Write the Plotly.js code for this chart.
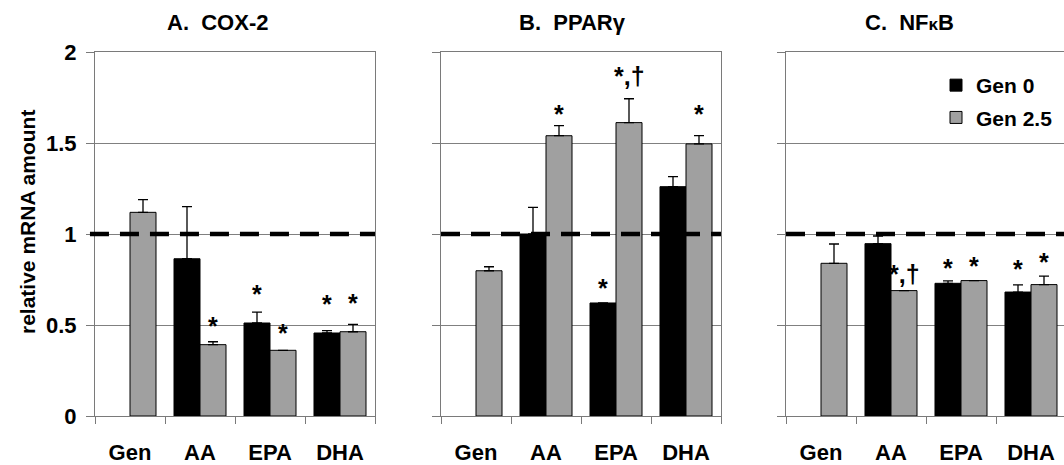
<!DOCTYPE html>
<html>
<head>
<meta charset="utf-8">
<script src="https://cdn.plot.ly/plotly-3.0.1.min.js"></script>
<style>
html,body{margin:0;padding:0;overflow:hidden;background:#fff;}
#chart{width:1070px;height:465px;}
</style>
</head>
<body>
<div id="chart"></div>
<script>
// ---------------- data ----------------
const categories = ['Gen', 'AA', 'EPA', 'DHA'];
const seriesNames = ['Gen 0', 'Gen 2.5'];
const panelTitles = ['A.  COX-2', 'B.  PPARγ', 'C.  NF<span style="font-size:17px">κ</span>B'];
const yTickVals = [0, 0.5, 1, 1.5, 2];
const yTickText = ['0', '0.5', '1', '1.5', '2'];
const yTitle = 'relative mRNA amount';
const referenceLevel = 1;

// COX-2
const coxGen0 = [null, 0.864, 0.511, 0.456];
const coxGen0Err = [0, 0.286, 0.060, 0.013];
const coxGen25 = [1.119, 0.392, 0.361, 0.463];
const coxGen25Err = [0.070, 0.016, 0, 0.040];
const coxSig0 = ['', '', '*', '*'];
const coxSig0Y = [null, null, 0.676, 0.620];
const coxSig25 = ['', '*', '*', '*'];
const coxSig25Y = [null, 0.500, 0.460, 0.626];

// PPARgamma
const pparGen0 = [null, 1.000, 0.621, 1.260];
const pparGen0Err = [0, 0.146, 0, 0.055];
const pparGen25 = [0.798, 1.540, 1.612, 1.495];
const pparGen25Err = [0.022, 0.055, 0.131, 0.045];
const pparSig0 = ['', '', '*', ''];
const pparSig0Y = [null, null, 0.709, null];
const pparSig25 = ['', '*', '*,†', '*'];
const pparSig25Y = [null, 1.665, 1.874, 1.665];

// NFkB
const nfkbGen0 = [null, 0.947, 0.729, 0.681];
const nfkbGen0Err = [0, 0.042, 0.013, 0.040];
const nfkbGen25 = [0.839, 0.689, 0.744, 0.722];
const nfkbGen25Err = [0.106, 0, 0, 0.046];
const nfkbSig0 = ['', '', '*', '*'];
const nfkbSig0Y = [null, null, 0.819, 0.813];
const nfkbSig25 = ['', '*,†', '*', '*'];
const nfkbSig25Y = [null, 0.786, 0.830, 0.852];

// ---------------- layout constants ----------------
const W = 1070, H = 465;
const FONT = 'Liberation Sans, Arial, Helvetica, sans-serif';
const panelPx = [[95, 375], [441, 721], [786, 1066]];
const plotTop = 52, plotBottom = 416;
const black = '#000000';
const gray = '#a0a0a0';
const axisGray = '#7a7a7a';
const barShift = 13;

const panels = [
  {g0: coxGen0, e0: coxGen0Err, g25: coxGen25, e25: coxGen25Err, s0: coxSig0, s0y: coxSig0Y, s25: coxSig25, s25y: coxSig25Y},
  {g0: pparGen0, e0: pparGen0Err, g25: pparGen25, e25: pparGen25Err, s0: pparSig0, s0y: pparSig0Y, s25: pparSig25, s25y: pparSig25Y},
  {g0: nfkbGen0, e0: nfkbGen0Err, g25: nfkbGen25, e25: nfkbGen25Err, s0: nfkbSig0, s0y: nfkbSig0Y, s25: nfkbSig25, s25y: nfkbSig25Y}
];

const traces = [];
const annotations = [];
const shapes = [];
const layout = {
  width: W, height: H,
  margin: {l: 0, r: 0, t: 0, b: 0},
  paper_bgcolor: '#fff', plot_bgcolor: '#fff',
  font: {family: FONT, size: 21, color: '#000', weight: 'bold'},
  barmode: 'group', bargap: 0.257, bargroupgap: 0,
  showlegend: true,
  legend: {
    x: 936 / W, y: 1 - 65 / H, xanchor: 'left', yanchor: 'top',
    bgcolor: 'rgba(0,0,0,0)', borderwidth: 0,
    font: {family: FONT, size: 21, color: '#000', weight: 'bold'},
    itemwidth: 30, tracegroupgap: 2, traceorder: 'grouped'
  }
};

panels.forEach((p, i) => {
  const xa = i === 0 ? 'x' : 'x' + (i + 1);
  const ya = i === 0 ? 'y' : 'y' + (i + 1);
  const xKey = i === 0 ? 'xaxis' : 'xaxis' + (i + 1);
  const yKey = i === 0 ? 'yaxis' : 'yaxis' + (i + 1);
  const last = i === panels.length - 1;
  traces.push({
    type: 'bar', x: categories, y: p.g0, name: seriesNames[0], xaxis: xa, yaxis: ya,
    marker: {color: black, line: {color: black, width: 1}},
    error_y: {type: 'data', symmetric: false, array: p.e0, arrayminus: p.e0.map(() => 0), color: black, thickness: 1.3, width: 5},
    showlegend: last, legendgroup: 'g0', hoverinfo: 'skip'
  });
  traces.push({
    type: 'bar', x: categories, y: p.g25, name: seriesNames[1], xaxis: xa, yaxis: ya,
    marker: {color: gray, line: {color: black, width: 1}},
    error_y: {type: 'data', symmetric: false, array: p.e25, arrayminus: p.e25.map(() => 0), color: black, thickness: 1.3, width: 5},
    showlegend: last, legendgroup: 'g25', hoverinfo: 'skip'
  });
  layout[xKey] = {
    domain: [panelPx[i][0] / W, panelPx[i][1] / W],
    anchor: ya, type: 'category', range: [-0.5, categories.length - 0.5],
    showline: true, linecolor: axisGray, linewidth: 1, mirror: true,
    ticks: 'outside', tickson: 'boundaries', ticklen: 7, tickcolor: axisGray, tickwidth: 1,
    ticklabelstandoff: 17,
    tickfont: {family: FONT, size: 22, color: '#000', weight: 'bold'},
    showgrid: false, zeroline: false, fixedrange: true
  };
  layout[yKey] = {
    domain: [1 - plotBottom / H, 1 - plotTop / H],
    anchor: xa, range: [0, 2],
    tickvals: yTickVals, ticktext: yTickText, showticklabels: i === 0,
    showline: true, linecolor: axisGray, linewidth: 1, mirror: true,
    ticks: 'outside', ticklen: 8, tickcolor: axisGray, tickwidth: 1,
    ticklabelstandoff: 5,
    tickfont: {family: FONT, size: 22, color: '#000', weight: 'bold'},
    showgrid: true, gridcolor: '#808080', gridwidth: 1, zeroline: false, fixedrange: true
  };
  // reference dashed line at 1
  shapes.push({
    type: 'line', xref: xa + ' domain', yref: ya,
    x0: i === 0 ? -0.018 : 0, x1: 1, y0: referenceLevel, y1: referenceLevel,
    line: {color: black, width: 4.5, dash: '19px,11px'}, layer: 'above'
  });
  // panel title
  const titleX = [217, 572, 909][i];
  annotations.push({
    xref: 'paper', yref: 'paper', x: titleX / W, y: 1 - 23 / H,
    xanchor: 'center', yanchor: 'middle', showarrow: false,
    text: '<b>' + panelTitles[i] + '</b>',
    font: {family: FONT, size: 22, color: '#000'}
  });
  // significance marks
  categories.forEach((c, k) => {
    if (p.s0[k]) annotations.push({
      xref: xa, yref: ya, x: c, y: p.s0y[k], xshift: -barShift, yshift: -1,
      xanchor: 'center', yanchor: 'middle', showarrow: false,
      text: '<b>' + p.s0[k] + '</b>', font: {family: FONT, size: 25, color: '#000'}
    });
    if (p.s25[k]) annotations.push({
      xref: xa, yref: ya, x: c, y: p.s25y[k], xshift: barShift, yshift: -1,
      xanchor: 'center', yanchor: 'middle', showarrow: false,
      text: '<b>' + p.s25[k] + '</b>', font: {family: FONT, size: 25, color: '#000'}
    });
  });
});

// y-axis title
annotations.push({
  xref: 'paper', yref: 'paper', x: 27 / W, y: 1 - 222 / H,
  xanchor: 'center', yanchor: 'middle', showarrow: false, textangle: -90,
  text: '<b>' + yTitle + '</b>', font: {family: FONT, size: 21, color: '#000'}
});

layout.annotations = annotations;
layout.shapes = shapes;

Plotly.newPlot('chart', traces, layout, {displayModeBar: false, staticPlot: true});
</script>
</body>
</html>
